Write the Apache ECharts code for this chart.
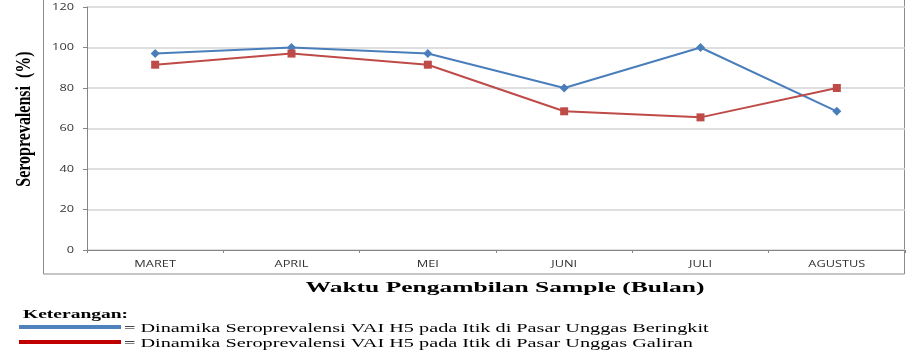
<!DOCTYPE html>
<html>
<head>
<meta charset="utf-8">
<script src="https://cdn.jsdelivr.net/npm/echarts@6/dist/echarts.min.js"></script>
<style>
  html, body { margin: 0; padding: 0; background: #fff; }
  #chart { width: 907px; height: 354px; }
</style>
</head>
<body>
<div id="chart"></div>
<script>
// data
const months = ['MARET', 'APRIL', 'MEI', 'JUNI', 'JULI', 'AGUSTUS'];
const beringkit = [97, 100, 97, 80, 100, 68.5];
const galiran = [91.5, 97, 91.5, 68.5, 65.5, 80];
const yTicks = [0, 20, 40, 60, 80, 100, 120];

const nameBlue = 'Dinamika Seroprevalensi VAI H5 pada Itik di Pasar Unggas Beringkit';
const nameRed = 'Dinamika Seroprevalensi VAI H5 pada Itik di Pasar Unggas Galiran';

// the picture is stretched sideways, so the texts are too
const STRETCH = 1.5;
const serif = '"Liberation Serif", "Times New Roman", serif';
const sans = '"Open Sans", sans-serif';

const chart = echarts.init(document.getElementById('chart'));
const option = {
  animation: false,
  grid: { left: 87, right: 2, top: 7, bottom: 104, containLabel: false },
  xAxis: {
    type: 'category',
    data: months,
    boundaryGap: true,
    axisLine: { lineStyle: { color: '#868686' } },
    axisTick: { show: true, length: 3, lineStyle: { color: '#868686' } },
    axisLabel: { show: false }
  },
  yAxis: {
    type: 'value',
    min: 0, max: 120, interval: 20,
    axisLine: { show: true, lineStyle: { color: '#868686' } },
    axisTick: { show: true, length: 4, lineStyle: { color: '#868686' } },
    axisLabel: { show: false },
    splitLine: { lineStyle: { color: '#d4d4d4', width: 1.5 } }
  },
  series: [
    {
      name: nameBlue,
      type: 'line',
      data: beringkit,
      symbol: 'diamond',
      symbolSize: 9,
      lineStyle: { color: '#4a7ebb', width: 2 },
      itemStyle: { color: '#4a7ebb' }
    },
    {
      name: nameRed,
      type: 'line',
      data: galiran,
      symbol: 'rect',
      symbolSize: 8,
      lineStyle: { color: '#be4b48', width: 2 },
      itemStyle: { color: '#be4b48' }
    }
  ]
};
chart.setOption(option);

// tick labels, titles and the key, placed from the axes once they exist
const graphics = [
  {
    type: 'rect',
    shape: { x: 43.5, y: -1, width: 861, height: 275 },
    style: { fill: 'none', stroke: '#8c8c8c', lineWidth: 1 },
    z: -1
  }
];

months.forEach(function (m) {
  const p = chart.convertToPixel({ xAxisIndex: 0 }, m);
  graphics.push({
    type: 'text', x: p, y: 264, scaleX: 1.42,
    style: { text: m, font: '9px ' + sans, fill: '#333', align: 'center', verticalAlign: 'middle' }
  });
});
yTicks.forEach(function (v) {
  const p = chart.convertToPixel({ yAxisIndex: 0 }, v);
  graphics.push({
    type: 'text', x: 74, y: p, scaleX: 1.42,
    style: { text: String(v), font: '9px ' + sans, fill: '#333', align: 'right', verticalAlign: 'middle' }
  });
});

// axis titles
graphics.push({
  type: 'text', x: 25, y: 119, rotation: Math.PI / 2, scaleX: 0.8,
  style: { text: 'Seroprevalensi  (%)', font: 'bold 20px ' + serif, fill: '#000', align: 'center', verticalAlign: 'middle' }
});
graphics.push({
  type: 'text', x: 505, y: 288, scaleX: 1.7,
  style: { text: 'Waktu Pengambilan Sample (Bulan)', font: 'bold 15px ' + serif, fill: '#000', align: 'center', verticalAlign: 'middle' }
});

// key
graphics.push({
  type: 'text', x: 23, y: 315, scaleX: STRETCH,
  style: { text: 'Keterangan:', font: 'bold 13px ' + serif, fill: '#000', verticalAlign: 'middle' }
});
[[nameBlue, '#4f81bd', 327], [nameRed, '#c00000', 342]].forEach(function (k) {
  graphics.push({
    type: 'rect', shape: { x: 19, y: k[2] - 2, width: 102, height: 4 },
    style: { fill: k[1] }
  });
  graphics.push({
    type: 'text', x: 124, y: k[2] + 1, scaleX: STRETCH,
    style: { text: '= ' + k[0], font: '13.5px ' + serif, fill: '#000', verticalAlign: 'middle' }
  });
});

chart.setOption({ graphic: graphics });

window.addEventListener('resize', function () {
  chart.resize();
});
</script>
</body>
</html>
